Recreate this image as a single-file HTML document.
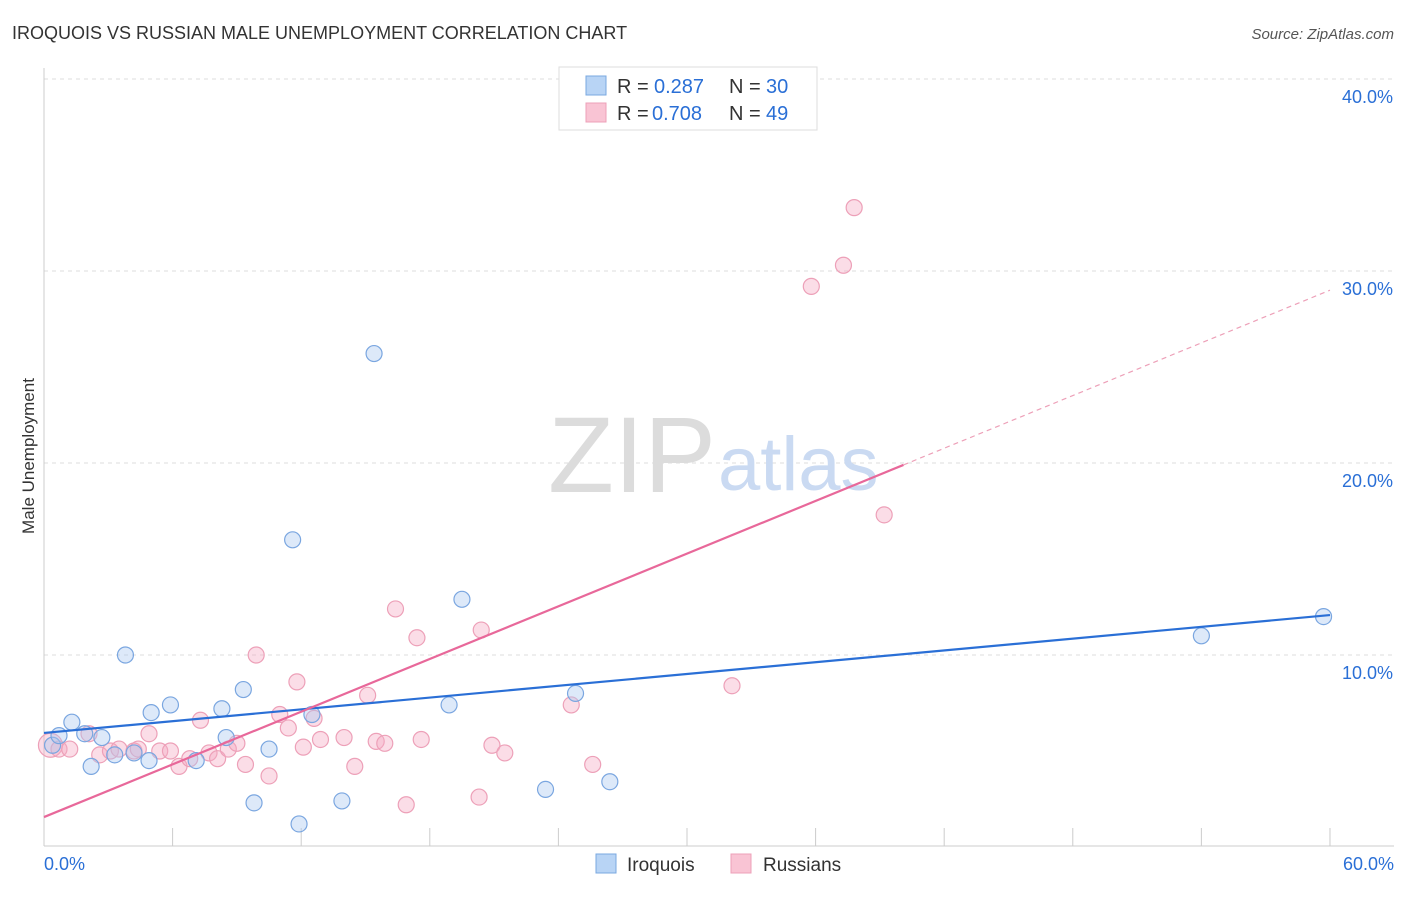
<!DOCTYPE html>
<html><head><meta charset="utf-8"><style>
body{margin:0;background:#fff;font-family:"Liberation Sans",sans-serif;}
svg text{font-family:"Liberation Sans",sans-serif;}
</style></head><body>
<svg id="chart" width="1406" height="892">
<text x="12" y="39" font-size="18" fill="#333">IROQUOIS VS RUSSIAN MALE UNEMPLOYMENT CORRELATION CHART</text>
<text x="1394" y="39" font-size="15" fill="#555" text-anchor="end" font-style="italic">Source: ZipAtlas.com</text>
<text x="34" y="456" font-size="17" fill="#333" text-anchor="middle" transform="rotate(-90 34 456)">Male Unemployment</text>
<g id="grid"></g>
<text x="716" y="492" font-size="108" fill="#dcdcdc" text-anchor="end" font-family="Liberation Serif">ZIP</text>
<text x="718" y="490" font-size="76" fill="#cadaf2">atlas</text>
<g id="marks"></g>
<g>
<rect x="559" y="67" width="258" height="63" fill="#fff" stroke="#ddd"/>
<rect x="586" y="76" width="20" height="19" fill="#b8d4f5" stroke="#7aa8e0"/>
<rect x="586" y="103" width="20" height="19" fill="#f9c4d4" stroke="#eda0b8"/>
<text x="617" y="93" font-size="20" fill="#333">R =</text>
<text x="654" y="93" font-size="20" fill="#2a6fd6">0.287</text>
<text x="729" y="93" font-size="20" fill="#333">N =</text>
<text x="766" y="93" font-size="20" fill="#2a6fd6">30</text>
<text x="617" y="120" font-size="20" fill="#333">R =</text>
<text x="652" y="120" font-size="20" fill="#2a6fd6">0.708</text>
<text x="729" y="120" font-size="20" fill="#333">N =</text>
<text x="766" y="120" font-size="20" fill="#2a6fd6">49</text>
</g>
<g>
<rect x="596" y="854" width="20" height="19" fill="#b8d4f5" stroke="#7aa8e0"/>
<text x="627" y="871" font-size="19" fill="#333">Iroquois</text>
<rect x="731" y="854" width="20" height="19" fill="#f9c4d4" stroke="#eda0b8"/>
<text x="763" y="871" font-size="19" fill="#333">Russians</text>
</g>
</svg>
<script>
const yTicks=[10,20,30,40];
const xTickLabels=["0.0%","60.0%"];
const iroX=[0.4,0.7,1.3,1.9,2.2,2.7,3.3,3.8,4.2,4.9,5.0,5.9,7.1,8.3,8.5,9.3,9.8,10.5,11.6,11.9,12.5,13.9,15.4,18.9,19.5,23.4,24.8,26.4,54.0,59.7];
const iroY=[5.3,5.8,6.5,5.9,4.2,5.7,4.8,10.0,4.9,4.5,7.0,7.4,4.5,7.2,5.7,8.2,2.3,5.1,16.0,1.2,6.9,2.4,25.7,7.4,12.9,3.0,8.0,3.4,11.0,12.0];
const rusX=[0.3,0.7,1.2,2.1,2.6,3.1,3.5,4.2,4.4,4.9,5.4,5.9,6.3,6.8,7.3,7.7,8.1,8.6,9.0,9.4,9.9,10.5,11.0,11.4,11.8,12.1,12.6,12.9,14.0,14.5,15.1,15.5,15.9,16.4,16.9,17.4,17.6,20.3,20.4,20.9,21.5,24.6,25.6,32.1,35.8,37.3,37.8,39.2];
const rusY=[5.3,5.1,5.1,5.9,4.8,5.0,5.1,5.0,5.1,5.9,5.0,5.0,4.2,4.6,6.6,4.9,4.6,5.1,5.4,4.3,10.0,3.7,6.9,6.2,8.6,5.2,6.7,5.6,5.7,4.2,7.9,5.5,5.4,12.4,2.2,10.9,5.6,2.6,11.3,5.3,4.9,7.4,4.3,8.4,29.2,30.3,33.3,17.3];
const iroLine=[5.94,12.08];
const rusLine=[1.56,29.0];
const rusSolidEnd=40.1;
const X=v=>44+v*21.433, Y=v=>847-v*19.2;
const NS="http://www.w3.org/2000/svg";
const grid=document.getElementById('grid'),marks=document.getElementById('marks');
function mk(tag,attrs,parent){const e=document.createElementNS(NS,tag);for(const k in attrs)e.setAttribute(k,attrs[k]);parent.appendChild(e);return e;}
yTicks.forEach(t=>{
 const l=mk('line',{x1:44,x2:1394,y1:Y(t),y2:Y(t),stroke:'#ddd','stroke-dasharray':'4,4'},grid);
 
 
 const tx=mk('text',{x:1393,y:Y(t)+24,'font-size':18,fill:'#2a6fd6','text-anchor':'end'},grid);tx.textContent=t.toFixed(1)+'%';
 
 
});
mk('line',{x1:44,x2:44,y1:68,y2:846,stroke:'#ccc'},grid);
mk('line',{x1:44,x2:1394,y1:846,y2:846,stroke:'#ccc'},grid);
for(let i=1;i<=10;i++){const x=X(i*6);const t=mk('line',{x1:x,x2:x,y1:828,y2:846,stroke:'#ccc'},grid);
 
 }
[[0,'start',44],[60,'end',1394]].forEach((d,i)=>{const t=mk('text',{x:d[2],y:870,'font-size':18,fill:'#2a6fd6','text-anchor':d[1]},grid);t.textContent=xTickLabels[i];
 
 });
rusX.forEach((v,i)=>{const c=mk('circle',{cx:X(v),cy:Y(rusY[i]),r:i==0?12:8,fill:'rgba(245,170,195,0.4)',stroke:'#eda0b8','stroke-width':1.2},marks);
 
 });
iroX.forEach((v,i)=>{const c=mk('circle',{cx:X(v),cy:Y(iroY[i]),r:8,fill:'rgba(170,200,240,0.4)',stroke:'#7aa6e0','stroke-width':1.2},marks);
 
 });
const bl=mk('line',{x1:X(0),y1:Y(iroLine[0]),x2:X(60),y2:Y(iroLine[1]),stroke:'#2a6fd6','stroke-width':2.2},marks);


const ry=v=>rusLine[0]+(rusLine[1]-rusLine[0])*v/60;
const pl=mk('line',{x1:X(0),y1:Y(ry(0)),x2:X(rusSolidEnd),y2:Y(ry(rusSolidEnd)),stroke:'#e8689a','stroke-width':2.2},marks);


const pd=mk('line',{x1:X(rusSolidEnd),y1:Y(ry(rusSolidEnd)),x2:X(60),y2:Y(ry(60)),stroke:'#eda0b8','stroke-width':1.2,'stroke-dasharray':'5,4'},marks);


</script>
</body></html>
